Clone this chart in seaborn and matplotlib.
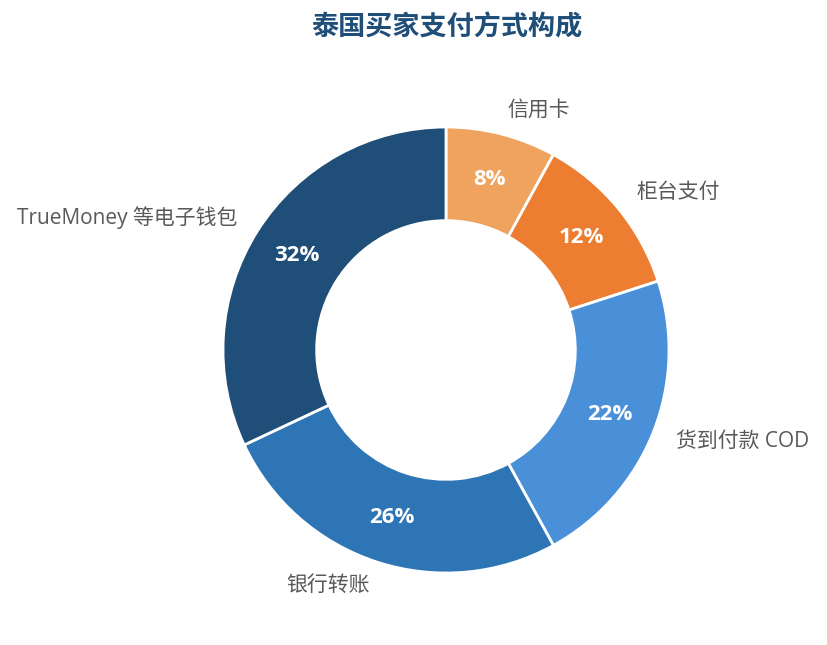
import matplotlib
matplotlib.use("Agg")
import matplotlib.pyplot as plt
import seaborn as sns

sns.set_theme(style="white")
plt.rcParams['font.family'] = ['Open Sans', 'Noto Sans CJK SC', 'DejaVu Sans']
plt.rcParams['axes.unicode_minus'] = False

# Data (clockwise from 12 o'clock)
methods = ['信用卡', '柜台支付', '货到付款 COD', '银行转账', 'TrueMoney 等电子钱包']
shares = [8, 12, 22, 26, 32]
colors = ['#F0A35E', '#ED7D31', '#4A90D9', '#2E75B6', '#1F4E79']

W, H = 827, 645
fig = plt.figure(figsize=(W / 100, H / 100), dpi=100)

# square axes centred on the donut
cx, cy, R = 446, 350, 223
ax = fig.add_axes([(cx - R) / W, (H - cy - R) / H, 2 * R / W, 2 * R / H], frameon=False)

wedges, texts, autotexts = ax.pie(
    shares, labels=methods, colors=colors, startangle=90, counterclock=False,
    autopct='%d%%', pctdistance=0.79, labeldistance=1.11,
    wedgeprops=dict(width=0.42, edgecolor='white', linewidth=2),
    textprops=dict(fontsize=15, color='#595959'),
)
for t in autotexts:
    t.set_color('white')
    t.set_fontsize(16)
    t.set_fontweight('bold')
ax.set_xlim(-1, 1)
ax.set_ylim(-1, 1)
ax.set_aspect('auto')

fig.text(0.54, 1 - 28 / H, '泰国买家支付方式构成', ha='center', va='center',
         fontsize=19.5, fontweight='bold', color='#1F4E79')

fig.savefig('out.png', dpi=100)
